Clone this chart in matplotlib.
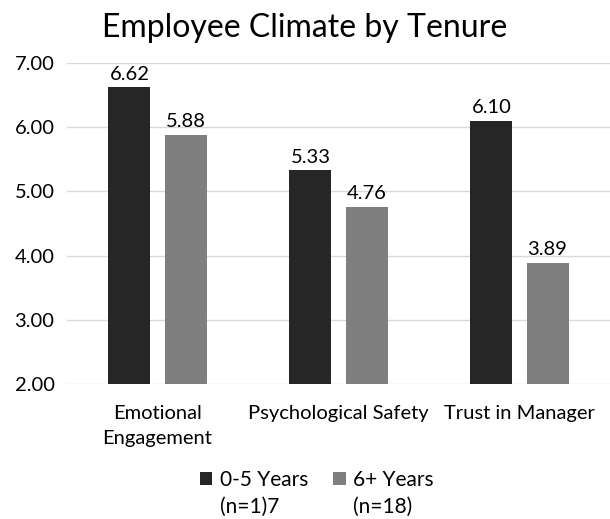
import matplotlib.pyplot as plt
import numpy as np

plt.rcParams['font.family'] = ['Lato', 'DejaVu Sans']

categories = ['Emotional\nEngagement', 'Psychological Safety', 'Trust in Manager']
series_names = ['0-5 Years', '6+ Years']
series_n = ['(n=1)7', '(n=18)']
short_tenure = [6.62, 5.33, 6.10]
long_tenure = [5.88, 4.76, 3.89]
yticks = [2, 3, 4, 5, 6, 7]

colors = ['#262626', '#7f7f7f']
fs = 14.5

fig = plt.figure(figsize=(6.1, 5.19), dpi=100)
ax = fig.add_axes([67 / 610, 1 - 384 / 519, 543 / 610, 321 / 519])

x = np.arange(len(categories))
w = 0.232
off = 0.155
for vals, name, c, sgn in [(short_tenure, series_names[0], colors[0], -1),
                           (long_tenure, series_names[1], colors[1], 1)]:
    bars = ax.bar(x + sgn * off, vals, w, color=c, label=name, zorder=3)
    for b, v in zip(bars, vals):
        ax.text(b.get_x() + b.get_width() / 2, v + 0.07, f'{v:.2f}',
                ha='center', va='bottom', fontsize=fs, color='#000000')

ax.set_xlim(-0.5, 2.5)
ax.set_ylim(2, 7)
ax.set_yticks(yticks)
ax.set_yticklabels([f'{t:.2f}' for t in yticks], fontsize=fs)
ax.set_xticks(x)
ax.set_xticklabels(categories, fontsize=fs)
for lab in ax.get_xticklabels():
    lab.set_linespacing(1.55)
ax.tick_params(axis='x', length=0, pad=15)
ax.tick_params(axis='y', length=0, pad=9)
ax.yaxis.grid(True, color='#d9d9d9', linewidth=1, zorder=0)
for s in ax.spines.values():
    s.set_visible(False)

fig.suptitle('Employee Climate by Tenure', fontsize=23, y=0.975)

leg = fig.legend(loc='center left', bbox_to_anchor=(200 / 610, 1 - 480 / 519), ncol=2,
                 frameon=False, fontsize=15, handlelength=0.6, handleheight=0.6,
                 handletextpad=0.35, columnspacing=1.2, borderpad=0, borderaxespad=0)

# second legend line (sample size) sits under each label
fig.canvas.draw()
inv = fig.transFigure.inverted()
for t, n in zip(leg.get_texts(), series_n):
    bb = t.get_window_extent()
    x0, _ = inv.transform((bb.x0, bb.y0))
    fig.text(x0, 1 - 507 / 519, n, fontsize=15, ha='left', va='center')

fig.savefig('out.png', dpi=100)
